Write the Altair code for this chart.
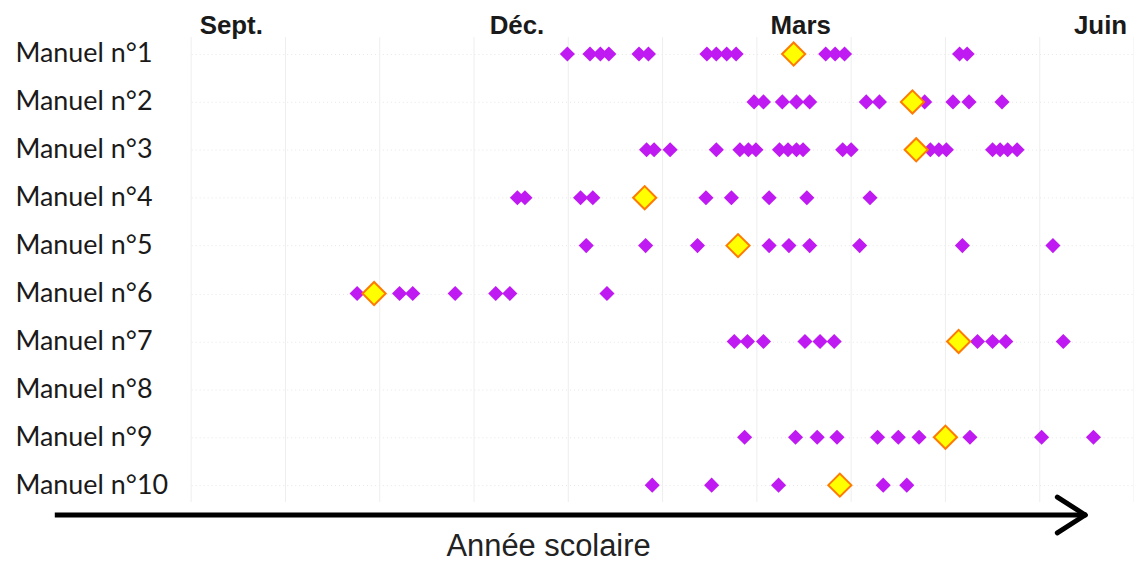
import altair as alt
import pandas as pd

# Rows (textbooks)
manuels = [f"Manuel n°{i}" for i in range(1, 11)]

# Chapter dates, in months since 1 September (purple diamonds)
dates_1 = [3.99, 4.23, 4.34, 4.43, 4.75, 4.85, 5.47, 5.57, 5.68, 5.78, 6.73, 6.83, 6.93, 8.15, 8.23]
dates_2 = [5.97, 6.07, 6.27, 6.42, 6.56, 7.16, 7.30, 7.78, 8.08, 8.25, 8.60]
dates_3 = [4.83, 4.91, 5.08, 5.57, 5.82, 5.91, 5.99, 6.24, 6.33, 6.42, 6.49, 6.91, 7.00,
           7.84, 7.93, 8.01, 8.50, 8.58, 8.66, 8.76]
dates_4 = [3.46, 3.54, 4.13, 4.26, 5.46, 5.73, 6.13, 6.53, 7.20]
dates_5 = [4.19, 4.82, 5.37, 6.13, 6.34, 6.56, 7.09, 8.18, 9.14]
dates_6 = [1.76, 2.21, 2.35, 2.80, 3.23, 3.38, 4.41]
dates_7 = [5.76, 5.90, 6.07, 6.51, 6.67, 6.82, 8.34, 8.50, 8.64, 9.25]
dates_8 = []
dates_9 = [5.87, 6.41, 6.64, 6.85, 7.28, 7.50, 7.72, 8.26, 9.02, 9.57]
dates_10 = [4.89, 5.52, 6.23, 7.34, 7.59]

# Highlighted chapter (yellow diamond) per textbook, None = absent
highlight = [6.39, 7.65, 7.69, 4.81, 5.80, 1.94, 8.14, None, 8.00, 6.88]

# Month grid (months since 1 September) and top labels
month_lines = list(range(0, 11))
tick_pos = [0.42, 3.45, 6.46, 9.64]
tick_labels = ["Sept.", "Déc.", "Mars", "Juin"]

all_dates = [dates_1, dates_2, dates_3, dates_4, dates_5,
             dates_6, dates_7, dates_8, dates_9, dates_10]

rows = []
for name, ds in zip(manuels, all_dates):
    for d in ds:
        rows.append({"manuel": name, "mois": d})
pts = pd.DataFrame(rows)

hl = pd.DataFrame([{"manuel": n, "mois": v} for n, v in zip(manuels, highlight) if v is not None])
grid = pd.DataFrame({"mois": month_lines})
one = pd.DataFrame({"a": [0]})

label_expr = ""
for p, lab in zip(tick_pos[:-1], tick_labels[:-1]):
    label_expr += f"datum.value < {p + 0.5} ? '{lab}' : "
label_expr += f"'{tick_labels[-1]}'"

xscale = alt.Scale(domain=[0, 10], nice=False, zero=False)
yscale = alt.Scale(type="point", domain=manuels, padding=0.353)

xaxis = alt.Axis(orient="top", values=tick_pos, labelExpr=label_expr,
                 title=None, domain=False, ticks=False, grid=False,
                 labelFont="Liberation Sans", labelFontWeight="bold",
                 labelFontSize=26, labelColor="#1a1a1a", labelPadding=4,
                 labelBaseline="alphabetic")
yaxis = alt.Axis(title=None, domain=False, ticks=False, tickSize=0,
                 labelAlign="left", labelPadding=177,
                 labelFont="Lato", labelFontSize=27, labelColor="#1a1a1a",
                 grid=True, gridColor="#e6e6e6", gridDash=[1, 3])

rules = alt.Chart(grid).mark_rule(color="#eeeeee", strokeWidth=1).encode(
    x=alt.X("mois:Q", scale=xscale, axis=xaxis)
)

purple = alt.Chart(pts).mark_point(
    shape="diamond", filled=True, size=230, color="#c01af2", opacity=1
).encode(
    x=alt.X("mois:Q", scale=xscale, axis=xaxis),
    y=alt.Y("manuel:N", scale=yscale, axis=yaxis),
)

yellow = alt.Chart(hl).mark_point(
    shape="diamond", filled=True, size=540, fill="#ffff00", stroke="#ff7a00",
    strokeWidth=2, opacity=1, fillOpacity=1, strokeOpacity=1
).encode(
    x=alt.X("mois:Q", scale=xscale, axis=xaxis),
    y=alt.Y("manuel:N", scale=yscale, axis=yaxis),
)

shaft = alt.Chart(one).mark_rule(color="black", strokeWidth=5).encode(
    x=alt.value(-137), x2=alt.value(897), y=alt.value(480)
)
head_top = alt.Chart(one).mark_rule(color="black", strokeWidth=5, strokeCap="round").encode(
    x=alt.value(870), x2=alt.value(898), y=alt.value(462), y2=alt.value(480)
)
head_bot = alt.Chart(one).mark_rule(color="black", strokeWidth=5, strokeCap="round").encode(
    x=alt.value(870), x2=alt.value(898), y=alt.value(498), y2=alt.value(480)
)
caption = alt.Chart(one).mark_text(
    text="Année scolaire", font="Liberation Sans", fontSize=31, color="#222222",
    align="center", baseline="middle"
).encode(x=alt.value(359), y=alt.value(512))

chart = alt.layer(rules, purple, yellow, shaft, head_top, head_bot, caption).properties(
    width=947, height=467,
    background="white",
    autosize=alt.AutoSizeParams(type="none"),
    padding={"left": 184, "top": 28, "right": 0, "bottom": 62},
).configure_view(strokeWidth=0)

chart.save("out.html", embed_options={"renderer": "svg", "actions": False})
